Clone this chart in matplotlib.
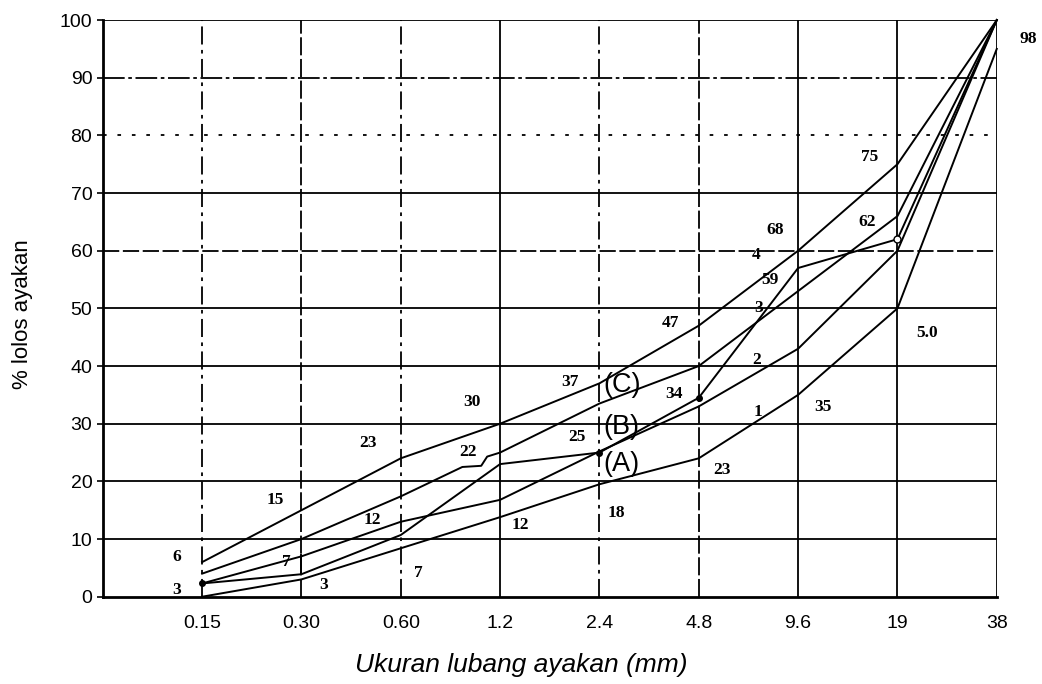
import matplotlib.pyplot as plt

# sieve sizes (mm) shown as evenly spaced categories
sieves = ['0.15', '0.30', '0.60', '1.2', '2.4', '4.8', '9.6', '19', '38']
pos = list(range(1, len(sieves) + 1))

# grading curves, % passing at each sieve
curve1 = [0, 3, 8.4, 13.8, 19.5, 24, 35, 50, 95]
curve2 = [2.3, 7, 13, 16.8, 25.2, 33, 43, 60, 100]
curve4 = [6, 15, 24, 30, 37, 47, 60, 75, 100]
# curve 3 has a small kink before 1.2
curve3_x = [1, 2, 3, 3.62, 3.81, 3.87, 4, 5, 6, 7, 8, 9]
curve3 = [4, 10, 17.4, 22.5, 22.7, 24.3, 25, 33.5, 40, 53, 66, 100]
# measured gradation with its plotted points
measured = [2.3, 3.9, 10.7, 23, 25, 34.5, 57, 62, 100]
step_x = [2, 2]
step_y = [3.9, 7.2]

# number labels written on the scan: (text, x, y)
labels = [
    ('6', 0.745, 6.9), ('3', 0.745, 1.2), ('15', 1.735, 16.8), ('7', 1.85, 6.1),
    ('3', 2.22, 2.0), ('23', 2.67, 26.6), ('12', 2.71, 13.3), ('7', 3.18, 4.1),
    ('30', 3.72, 33.8), ('22', 3.68, 25.1), ('12', 4.2, 12.4), ('37', 4.7, 37.3),
    ('25', 4.77, 27.7), ('18', 5.17, 14.5), ('34', 5.75, 35.1), ('47', 5.71, 47.5),
    ('23', 6.23, 22.0), ('1', 6.6, 32.1), ('2', 6.58, 41.0), ('35', 7.255, 32.9),
    ('5.0', 8.3, 45.7), ('3', 6.6, 50.0), ('59', 6.72, 54.9), ('4', 6.58, 59.3),
    ('68', 6.77, 63.6), ('62', 7.69, 65.0), ('75', 7.725, 76.3), ('98', 9.32, 96.7),
]
letters = [('(C)', 5.225, 36.7), ('(B)', 5.225, 29.5), ('(A)', 5.225, 23.1)]

fig = plt.figure(figsize=(10.42, 6.84), dpi=100)
ax = fig.add_axes([0.0986, 0.1276, 0.858, 0.8431])

# grid drawn like the scanned original
h_styles = {10: '-', 20: '-', 30: '-', 40: '-', 50: '-', 60: (0, (9, 2)),
            70: '-', 80: (0, (2, 6)), 90: (0, (12, 2, 2, 2)), 100: '-'}
for yv, ls in h_styles.items():
    ax.axhline(yv, color='black', lw=1.3, ls=ls, zorder=1)
dd = (0, (10, 3, 2, 3))
v_styles = [dd, (0, (10, 2)), dd, '-', dd, (0, (10, 2)), '-', '-', '-']
for xv, ls in zip(pos, v_styles):
    ax.axvline(xv, color='black', lw=1.3, ls=ls, zorder=1)

kw = dict(color='black', lw=1.4, clip_on=False, zorder=3)
ax.plot(pos, curve1, **kw)
ax.plot(pos, curve2, **kw)
ax.plot(curve3_x, curve3, **kw)
ax.plot(pos, curve4, **kw)
ax.plot(pos, measured, **kw)
ax.plot(step_x, step_y, **kw)
ax.plot([pos[0], pos[4], pos[5]], [measured[0], measured[4], measured[5]],
        'o', color='black', ms=4, zorder=4)
ax.plot(pos[7], measured[7], 'o', mfc='white', mec='black', ms=5, zorder=4)

for t, x, y in labels:
    ax.text(x, y, t, ha='center', va='center', fontsize=12.5,
            family='Liberation Serif', fontweight='bold')
for t, x, y in letters:
    ax.text(x, y, t, ha='center', va='center', fontsize=19.5,
            family='Liberation Sans', zorder=5)

ax.set_xlim(0, 9)
ax.set_ylim(0, 100)
ax.set_xticks(pos)
ax.set_xticklabels(sieves, family='Liberation Sans', fontsize=14)
ax.set_yticks(range(0, 101, 10))
ax.tick_params(axis='y', labelsize=14, length=4, width=1.2)
ax.tick_params(axis='x', length=0, pad=13)
for lab in ax.get_yticklabels():
    lab.set_family('Liberation Sans')
ax.spines['top'].set_visible(False)
ax.spines['right'].set_visible(False)
ax.spines['left'].set_linewidth(2)
ax.spines['bottom'].set_linewidth(2)

ax.set_ylabel('% lolos ayakan', family='Liberation Sans', fontsize=16, va='center')
ax.yaxis.set_label_coords(-0.090, 0.49)
ax.set_xlabel('Ukuran lubang ayakan (mm)', family='Liberation Sans',
              fontsize=19, style='italic', va='center')
ax.xaxis.set_label_coords(0.468, -0.118)

fig.savefig('out.png', dpi=100)
